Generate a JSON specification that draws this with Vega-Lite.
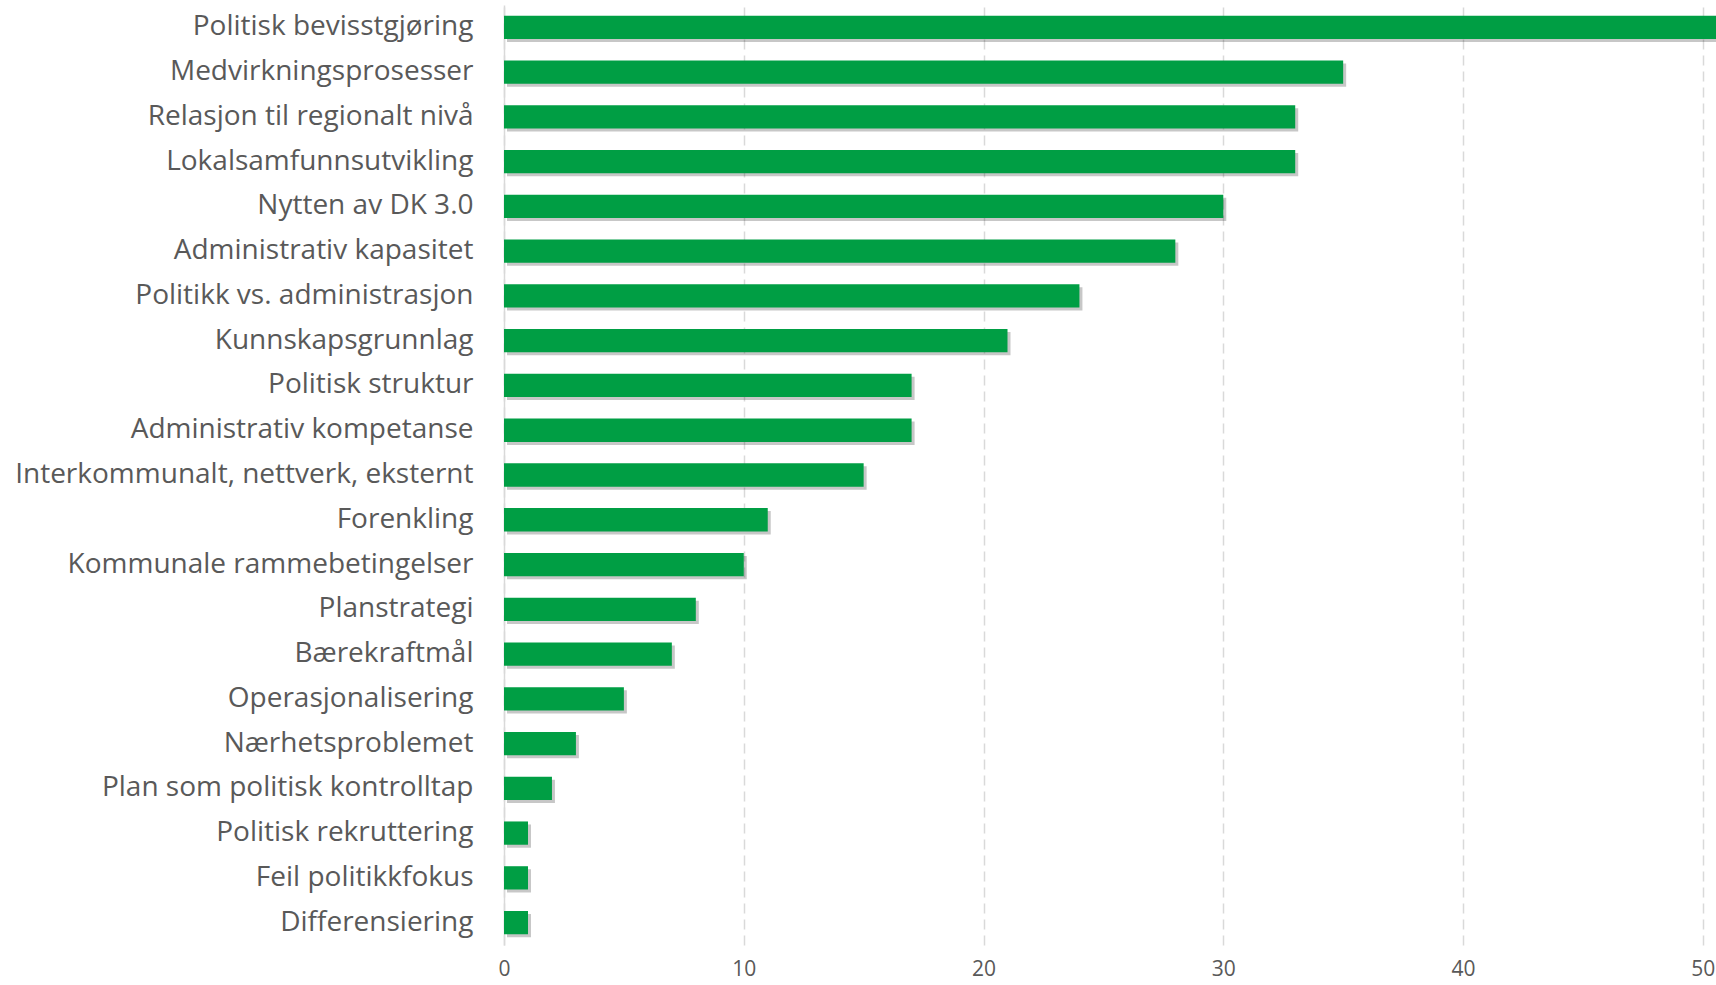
{
  "$schema": "https://vega.github.io/schema/vega-lite/v6.json",
  "width": 1212,
  "height": 940,
  "autosize": {"type": "none"},
  "padding": {"left": 504, "top": 5, "right": 0, "bottom": 40},
  "background": "white",
  "config": {"view": {"stroke": null}},
  "data": {
    "values": [
      {"tema": "Politisk bevisstgjøring", "antall": 52},
      {"tema": "Medvirkningsprosesser", "antall": 35},
      {"tema": "Relasjon til regionalt nivå", "antall": 33},
      {"tema": "Lokalsamfunnsutvikling", "antall": 33},
      {"tema": "Nytten av DK 3.0", "antall": 30},
      {"tema": "Administrativ kapasitet", "antall": 28},
      {"tema": "Politikk vs. administrasjon", "antall": 24},
      {"tema": "Kunnskapsgrunnlag", "antall": 21},
      {"tema": "Politisk struktur", "antall": 17},
      {"tema": "Administrativ kompetanse", "antall": 17},
      {"tema": "Interkommunalt, nettverk, eksternt", "antall": 15},
      {"tema": "Forenkling", "antall": 11},
      {"tema": "Kommunale rammebetingelser", "antall": 10},
      {"tema": "Planstrategi", "antall": 8},
      {"tema": "Bærekraftmål", "antall": 7},
      {"tema": "Operasjonalisering", "antall": 5},
      {"tema": "Nærhetsproblemet", "antall": 3},
      {"tema": "Plan som politisk kontrolltap", "antall": 2},
      {"tema": "Politisk rekruttering", "antall": 1},
      {"tema": "Feil politikkfokus", "antall": 1},
      {"tema": "Differensiering", "antall": 1}
    ]
  },
  "encoding": {
    "y": {
      "field": "tema",
      "type": "nominal",
      "sort": null,
      "scale": {"paddingInner": 0.48, "paddingOuter": 0.24},
      "axis": {
        "title": null,
        "ticks": false,
        "tickSize": 0,
        "domain": true,
        "domainColor": "#d9d9d9",
        "domainWidth": 1.5,
        "labelPadding": 31,
        "labelFont": "Open Sans",
        "labelFontSize": 28,
        "labelColor": "#595959",
        "labelLimit": 700
      }
    },
    "x": {
      "field": "antall",
      "type": "quantitative",
      "scale": {"domain": [0, 50.55], "nice": false, "zero": true},
      "axis": {
        "title": null,
        "values": [0, 10, 20, 30, 40, 50],
        "domain": false,
        "ticks": false,
        "tickSize": 0,
        "grid": true,
        "gridColor": "#d9d9d9",
        "gridDash": [10, 6],
        "gridWidth": 1.5,
        "labelFlush": false,
        "labelOverlap": false,
        "labelPadding": 13,
        "labelFont": "Open Sans",
        "labelFontSize": 21,
        "labelColor": "#595959"
      }
    }
  },
  "layer": [
    {
      "mark": {"type": "bar", "color": "#000000", "opacity": 0.22, "xOffset": 3, "yOffset": 3, "clip": true}
    },
    {
      "mark": {"type": "bar", "color": "#009E44", "clip": true}
    }
  ]
}
